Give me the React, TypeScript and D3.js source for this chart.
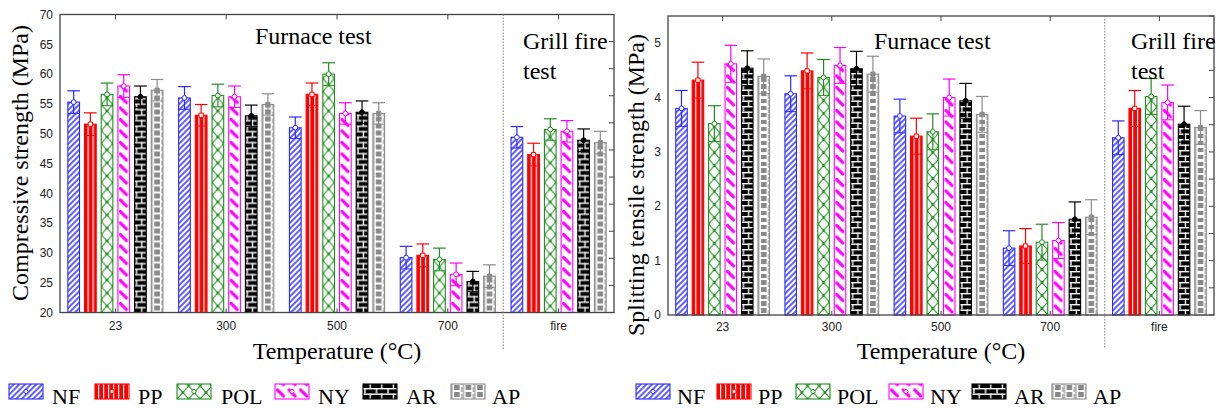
import React from 'react';
import * as d3 from 'd3';

// categories (x axis) and series
const categories = ['23', '300', '500', '700', 'fire'];
const series = ['NF', 'PP', 'POL', 'NY', 'AR', 'AP'];
const colors = ['#2a2aff', '#ff0000', '#1f8f1f', '#ff00ff', '#000000', '#8c8c8c'];

// compressive strength (MPa)
const compNF = [55.3, 56.0, 51.0, 29.2, 49.4];
const compPP = [51.6, 53.1, 56.6, 29.6, 46.5];
const compPOL = [56.6, 56.4, 60.0, 28.9, 50.7];
const compNY = [58.0, 56.2, 53.4, 26.4, 50.4];
const compAR = [56.2, 53.0, 53.6, 25.2, 48.9];
const compAP = [57.3, 54.9, 53.4, 26.1, 48.5];
const compErrNF = [1.9, 1.9, 1.8, 1.9, 1.8];
const compErrPP = [1.9, 1.8, 1.9, 1.9, 1.9];
const compErrPOL = [1.9, 1.9, 1.9, 1.9, 1.8];
const compErrNY = [1.9, 1.8, 1.8, 1.9, 1.8];
const compErrAR = [1.8, 1.8, 1.9, 1.7, 1.9];
const compErrAP = [1.8, 1.8, 1.8, 1.9, 1.9];

// splitting tensile strength (MPa)
const splitNF = [3.8, 4.07, 3.66, 1.23, 3.26];
const splitPP = [4.32, 4.49, 3.29, 1.27, 3.8];
const splitPOL = [3.52, 4.37, 3.37, 1.34, 4.02];
const splitNY = [4.62, 4.59, 4.0, 1.37, 3.91];
const splitAR = [4.54, 4.53, 3.94, 1.76, 3.51];
const splitAP = [4.39, 4.43, 3.69, 1.8, 3.45];
const splitErrNF = [0.33, 0.33, 0.31, 0.32, 0.31];
const splitErrPP = [0.33, 0.33, 0.33, 0.32, 0.33];
const splitErrPOL = [0.33, 0.33, 0.33, 0.33, 0.33];
const splitErrNY = [0.34, 0.33, 0.34, 0.33, 0.32];
const splitErrAR = [0.32, 0.32, 0.32, 0.32, 0.33];
const splitErrAP = [0.32, 0.33, 0.33, 0.32, 0.31];

const compTicks = [20, 25, 30, 35, 40, 45, 50, 55, 60, 65, 70];
const splitTicks = [0, 1, 2, 3, 4, 5];

const serif = '"Liberation Serif", "Times New Roman", serif';
const sans = '"Liberation Sans", Arial, sans-serif';

const markerTypes = [d3.symbolCircle, d3.symbolSquare, d3.symbolCircle, d3.symbolCircle, d3.symbolCircle, d3.symbolSquare];
const markerFilled = [false, false, false, false, true, true];

// tile width ~ bar width, patterns are aligned to each bar's left/bottom edge
const W = 11.6;

const Patterns = () => (
  <defs>
    <pattern id="pNF" width={4} height={4} patternUnits="userSpaceOnUse" patternTransform="rotate(45)">
      <rect width={4} height={4} fill="#fff" />
      <line x1={1} y1={0} x2={1} y2={4} stroke={colors[0]} strokeWidth={1.5} />
    </pattern>
    <pattern id="pPP" width={5} height={10} patternUnits="userSpaceOnUse">
      <rect width={5} height={10} fill={colors[1]} />
      <rect x={3} width={1.2} height={10} fill="#fff" />
    </pattern>
    <pattern id="pPOL" width={W} height={13} patternUnits="userSpaceOnUse">
      <rect width={W} height={13} fill="#fff" />
      <path d={`M0,0L${W},13M${W},0L0,13`} stroke={colors[2]} strokeWidth={1} />
      <circle cx={W / 2} cy={6.5} r={1.4} fill={colors[2]} />
      <circle cx={0} cy={0} r={1.4} fill={colors[2]} />
      <circle cx={W} cy={0} r={1.4} fill={colors[2]} />
      <circle cx={0} cy={13} r={1.4} fill={colors[2]} />
      <circle cx={W} cy={13} r={1.4} fill={colors[2]} />
    </pattern>
    <pattern id="pNY" width={W} height={11.5} patternUnits="userSpaceOnUse">
      <rect width={W} height={11.5} fill="#fff" />
      <path d="M2.5,2.5L8.5,8.5" stroke={colors[3]} strokeWidth={3.2} strokeLinecap="round" />
    </pattern>
    <pattern id="pAR" width={W} height={11} patternUnits="userSpaceOnUse">
      <rect width={W} height={11} fill="#000" />
      <rect x={0} y={0} width={W} height={1.4} fill="#fff" />
      <rect x={0} y={5.5} width={W} height={1.4} fill="#fff" />
      <rect x={1.2} y={0} width={1.4} height={5.5} fill="#fff" />
      <rect x={6.5} y={5.5} width={1.4} height={5.5} fill="#fff" />
    </pattern>
    <pattern id="pAP" width={W} height={7} patternUnits="userSpaceOnUse">
      <rect width={W} height={7} fill="#fff" />
      <rect x={0} y={0} width={1.6} height={7} fill="#b0b0b0" />
      <rect x={3} y={0} width={5.6} height={5} fill="#888" />
      <rect x={10} y={2} width={1.6} height={5} fill="#b0b0b0" />
    </pattern>
  </defs>
);

type ChartProps = {
  x0: number; x1: number; yTop: number; yBot: number;
  domain: [number, number];
  ticks: number[];
  values: number[][];
  errors: number[][];
  yLabel: string;
  yLabelX: number; yLabelY: number;
  furnaceX: number; furnaceY: number;
  grillX: number;
  tickBase: number;
  legendSwatchX: number[];
  legendTextX: number[];
};

const Chart = (p: ChartProps) => {
  const x = d3.scaleBand<string>().domain(categories).range([p.x0, p.x1]).padding(0);
  const xs = d3.scaleBand<string>().domain(series).range([0, x.bandwidth()]).paddingInner(0.3).paddingOuter(0.47);
  const y = d3.scaleLinear().domain(p.domain).range([p.yBot, p.yTop]);
  const yRight = d3.scaleLinear().domain([0, 11]).range([p.yBot, p.yTop]);
  const bw = xs.bandwidth();
  const divX = x('fire') as number;
  const sym = (i: number, size: number) => d3.symbol().type(markerTypes[i]).size(size)() as string;

  return (
    <g>
      {series.map((s, si) =>
        categories.map((c, ci) => {
          const v = p.values[si][ci];
          const e = p.errors[si][ci];
          const bx = (x(c) as number) + (xs(s) as number);
          const cx = bx + bw / 2;
          const h = p.yBot - y(v);
          return (
            <g key={s + c}>
              <g transform={`translate(${bx},${p.yBot})`}>
                <rect x={0} y={-h} width={bw} height={h} fill={`url(#p${s})`} stroke={colors[si]} strokeWidth={1.1} />
              </g>
              <line x1={cx} x2={cx} y1={y(v - e)} y2={y(v + e)} stroke={colors[si]} strokeWidth={1.2} />
              <line x1={cx - bw / 2 - 0.5} x2={cx + bw / 2 + 0.5} y1={y(v + e)} y2={y(v + e)} stroke={colors[si]} strokeWidth={1.2} />
              <line x1={cx - bw / 2} x2={cx + bw / 2} y1={y(v - e)} y2={y(v - e)} stroke={colors[si]} strokeWidth={1} />
              <path d={sym(si, 18)} transform={`translate(${cx},${y(v)})`} fill={markerFilled[si] ? colors[si] : '#fff'} stroke={colors[si]} strokeWidth={1} />
            </g>
          );
        })
      )}
      {/* frame */}
      <rect x={p.x0} y={p.yTop} width={p.x1 - p.x0} height={p.yBot - p.yTop} fill="none" stroke="#444" strokeWidth={1.3} />
      {/* top & bottom category ticks */}
      {categories.map((c) => {
        const cx = (x(c) as number) + x.bandwidth() / 2;
        return (
          <g key={'t' + c}>
            <line x1={cx} x2={cx} y1={p.yTop} y2={p.yTop + 5} stroke="#444" />
            <line x1={cx} x2={cx} y1={p.yBot} y2={p.yBot - 4} stroke="#444" />
            <text x={cx} y={p.tickBase} textAnchor="middle" fontFamily={sans} fontSize={12} fill="#222">{c}</text>
          </g>
        );
      })}
      {/* right ticks */}
      {d3.range(0, 12).map((t) => (
        <line key={'r' + t} x1={p.x1} x2={p.x1 - 5} y1={yRight(t)} y2={yRight(t)} stroke="#444" />
      ))}
      {/* left tick labels */}
      {p.ticks.map((t) => (
        <text key={'y' + t} x={p.x0 - 7} y={y(t)} dy="0.35em" textAnchor="end" fontFamily={sans} fontSize={12} fill="#222">{t}</text>
      ))}
      {/* divider */}
      <line x1={divX} x2={divX} y1={p.yTop} y2={349} stroke="#777" strokeWidth={1} strokeDasharray="1.5,1.5" />
      {/* annotations */}
      <text x={p.furnaceX} y={p.furnaceY} fontFamily={serif} fontSize={24}>Furnace test</text>
      <text x={p.grillX} y={49} fontFamily={serif} fontSize={24}>Grill fire</text>
      <text x={p.grillX} y={79} fontFamily={serif} fontSize={24}>test</text>
      {/* axis titles */}
      <text transform={`translate(${p.yLabelX},${p.yLabelY}) rotate(-90)`} textAnchor="middle" fontFamily={serif} fontSize={24}>{p.yLabel}</text>
      <text x={(p.x0 + p.x1) / 2} y={359} textAnchor="middle" fontFamily={serif} fontSize={24}>Temperature (°C)</text>
      {/* legend */}
      {series.map((s, si) => (
        <g key={'l' + s}>
          <g transform={`translate(${p.legendSwatchX[si]},399)`}>
            <rect x={0} y={-15} width={34} height={15} fill={`url(#p${s})`} stroke={colors[si]} strokeWidth={1.1} />
          </g>
          {si < 4 && (
            <path d={sym(si, 14)} transform={`translate(${p.legendSwatchX[si] + 17},391.5)`} fill="#fff" stroke={colors[si]} strokeWidth={0.9} />
          )}
          <text x={p.legendTextX[si]} y={404} fontFamily={serif} fontSize={22}>{s}</text>
        </g>
      ))}
    </g>
  );
};

export default function App() {
  return (
    <svg width={1217} height={409} style={{ position: 'absolute', left: 0, top: 0, background: '#fff' }}>
      <Patterns />
      <Chart
        x0={60} x1={614} yTop={14.5} yBot={312.5}
        domain={[20, 70]} ticks={compTicks}
        values={[compNF, compPP, compPOL, compNY, compAR, compAP]}
        errors={[compErrNF, compErrPP, compErrPOL, compErrNY, compErrAR, compErrAP]}
        yLabel="Compressive strength (MPa)" yLabelX={27.5} yLabelY={163}
        furnaceX={255} furnaceY={44} grillX={523}
        tickBase={330}
        legendSwatchX={[9, 95, 177, 275, 363, 451]}
        legendTextX={[52, 138, 221, 318, 406, 492]}
      />
      <Chart
        x0={668} x1={1214} yTop={16} yBot={315}
        domain={[0, 5.5]} ticks={splitTicks}
        values={[splitNF, splitPP, splitPOL, splitNY, splitAR, splitAP]}
        errors={[splitErrNF, splitErrPP, splitErrPOL, splitErrNY, splitErrAR, splitErrAP]}
        yLabel="Splitting tensile strength (MPa)" yLabelX={644} yLabelY={185}
        furnaceX={874} furnaceY={49} grillX={1131}
        tickBase={331}
        legendSwatchX={[636, 717, 796, 889, 972, 1052]}
        legendTextX={[677, 758, 837, 930, 1014, 1093]}
      />
    </svg>
  );
}
